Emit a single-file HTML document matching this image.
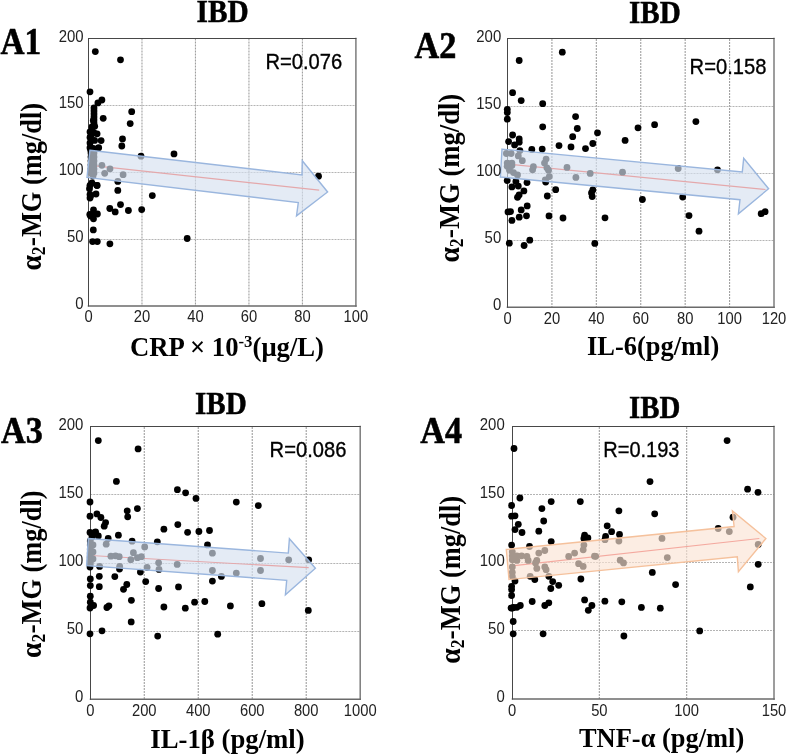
<!DOCTYPE html>
<html><head><meta charset="utf-8"><style>
html,body{margin:0;padding:0;background:#fff;overflow:hidden;}
svg{display:block;will-change:transform;}
</style></head><body>
<svg width="787" height="754" viewBox="0 0 787 754">
<rect width="787" height="754" fill="#fff"/>
<g stroke-width="1" stroke-dasharray="2 1"><line x1="141.98" y1="38.5" x2="141.98" y2="305.9" stroke="#a0a0a0" stroke-width="1.1"/><line x1="195.46" y1="38.5" x2="195.46" y2="305.9" stroke="#a0a0a0" stroke-width="1.1"/><line x1="248.94" y1="38.5" x2="248.94" y2="305.9" stroke="#a0a0a0" stroke-width="1.1"/><line x1="302.42" y1="38.5" x2="302.42" y2="305.9" stroke="#a0a0a0" stroke-width="1.1"/><line x1="88.5" y1="239.5" x2="355.9" y2="239.5" stroke="#b4b4b4"/><line x1="88.5" y1="172.5" x2="355.9" y2="172.5" stroke="#b4b4b4"/><line x1="88.5" y1="105.5" x2="355.9" y2="105.5" stroke="#b4b4b4"/></g>
<g fill="none" stroke-linecap="square"><line x1="355.9" y1="38.5" x2="355.9" y2="305.9" stroke="#7c7c7c" stroke-width="1.5"/><line x1="88.5" y1="305.9" x2="355.9" y2="305.9" stroke="#6a6a6a" stroke-width="1.5"/><line x1="88.5" y1="38.5" x2="88.5" y2="305.9" stroke="#484848" stroke-width="1"/><line x1="88.5" y1="38.5" x2="355.9" y2="38.5" stroke="#484848" stroke-width="1"/></g>
<line x1="88.5" y1="165.1" x2="319.2" y2="190.2" stroke="#ff3c28" stroke-width="1.2"/>
<g fill="#000"><circle cx="95.3" cy="51.6" r="3.4"/><circle cx="120.5" cy="59.8" r="3.4"/><circle cx="90.0" cy="91.8" r="3.4"/><circle cx="101.9" cy="100.0" r="3.4"/><circle cx="97.9" cy="102.9" r="3.4"/><circle cx="94" cy="108" r="3.4"/><circle cx="94" cy="111" r="3.4"/><circle cx="94" cy="114" r="3.4"/><circle cx="94" cy="117" r="3.4"/><circle cx="94" cy="120" r="3.4"/><circle cx="94" cy="123" r="3.4"/><circle cx="131.7" cy="111.7" r="3.4"/><circle cx="103.2" cy="118.3" r="3.4"/><circle cx="130.2" cy="123.6" r="3.4"/><circle cx="92.3" cy="127" r="3.4"/><circle cx="94.7" cy="126.3" r="3.4"/><circle cx="90" cy="131.8" r="3.4"/><circle cx="97.1" cy="133.8" r="3.4"/><circle cx="90" cy="137.4" r="3.4"/><circle cx="101.1" cy="140.6" r="3.4"/><circle cx="90" cy="143" r="3.4"/><circle cx="98.7" cy="147.7" r="3.4"/><circle cx="90" cy="147.7" r="3.4"/><circle cx="122.5" cy="138.9" r="3.4"/><circle cx="121.8" cy="146" r="3.4"/><circle cx="174" cy="153.9" r="3.4"/><circle cx="141" cy="156.2" r="3.4"/><circle cx="91" cy="153" r="3.4"/><circle cx="91" cy="157" r="3.4"/><circle cx="91" cy="161" r="3.4"/><circle cx="91" cy="165" r="3.4"/><circle cx="91" cy="169" r="3.4"/><circle cx="91" cy="173" r="3.4"/><circle cx="94" cy="153" r="3.4"/><circle cx="94" cy="157" r="3.4"/><circle cx="94" cy="161" r="3.4"/><circle cx="94" cy="165" r="3.4"/><circle cx="94" cy="169" r="3.4"/><circle cx="94" cy="173" r="3.4"/><circle cx="93" cy="176" r="3.4"/><circle cx="101.9" cy="165.3" r="3.4"/><circle cx="110" cy="168.8" r="3.4"/><circle cx="104.7" cy="173.3" r="3.4"/><circle cx="123.1" cy="174.7" r="3.4"/><circle cx="117.8" cy="181.4" r="3.4"/><circle cx="90" cy="185.3" r="3.4"/><circle cx="96.7" cy="185.3" r="3.4"/><circle cx="89.5" cy="188.7" r="3.4"/><circle cx="117.8" cy="190.4" r="3.4"/><circle cx="90" cy="194.4" r="3.4"/><circle cx="96" cy="194" r="3.4"/><circle cx="90" cy="198" r="3.4"/><circle cx="152.3" cy="195.6" r="3.4"/><circle cx="120.5" cy="204.6" r="3.4"/><circle cx="109.8" cy="208.5" r="3.4"/><circle cx="115.2" cy="211.9" r="3.4"/><circle cx="128.4" cy="210.5" r="3.4"/><circle cx="141.7" cy="209.6" r="3.4"/><circle cx="93.5" cy="209.8" r="3.4"/><circle cx="89.8" cy="214.5" r="3.4"/><circle cx="97.4" cy="214" r="3.4"/><circle cx="93.5" cy="218.8" r="3.4"/><circle cx="93.3" cy="229.9" r="3.4"/><circle cx="92.6" cy="241.6" r="3.4"/><circle cx="97.3" cy="241.6" r="3.4"/><circle cx="109.9" cy="243.8" r="3.4"/><circle cx="187.2" cy="238.5" r="3.4"/><circle cx="318.5" cy="176.2" r="3.4"/><circle cx="91.9" cy="127.1" r="3.4"/><circle cx="93.3" cy="120.5" r="3.4"/><circle cx="90.6" cy="136.4" r="3.4"/><circle cx="94.6" cy="140.4" r="3.4"/><circle cx="90.6" cy="149.7" r="3.4"/><circle cx="93.3" cy="148.4" r="3.4"/><circle cx="91.9" cy="182.8" r="3.4"/><circle cx="97.2" cy="185.5" r="3.4"/><circle cx="90.6" cy="196.1" r="3.4"/><circle cx="93.3" cy="213.3" r="3.4"/><circle cx="90.6" cy="216" r="3.4"/><circle cx="92" cy="131" r="3.4"/><circle cx="94" cy="133" r="3.4"/></g>
<polygon points="89.9,150.2 302.0,174.9 302.3,160.7 327.6,192.0 296.5,215.9 298.3,202.5 87,177.5" fill="#d6e1f0" fill-opacity="0.66" stroke="#9ab6de" stroke-width="1.4" stroke-linejoin="miter"/>
<text x="88.50" y="321.5" font-family="'Liberation Sans', sans-serif" font-size="16" font-weight="normal" text-anchor="middle" fill="#222" textLength="8.2" lengthAdjust="spacingAndGlyphs">0</text>
<text x="141.98" y="321.5" font-family="'Liberation Sans', sans-serif" font-size="16" font-weight="normal" text-anchor="middle" fill="#222" textLength="16.4" lengthAdjust="spacingAndGlyphs">20</text>
<text x="195.46" y="321.5" font-family="'Liberation Sans', sans-serif" font-size="16" font-weight="normal" text-anchor="middle" fill="#222" textLength="16.4" lengthAdjust="spacingAndGlyphs">40</text>
<text x="248.94" y="321.5" font-family="'Liberation Sans', sans-serif" font-size="16" font-weight="normal" text-anchor="middle" fill="#222" textLength="16.4" lengthAdjust="spacingAndGlyphs">60</text>
<text x="302.42" y="321.5" font-family="'Liberation Sans', sans-serif" font-size="16" font-weight="normal" text-anchor="middle" fill="#222" textLength="16.4" lengthAdjust="spacingAndGlyphs">80</text>
<text x="355.90" y="321.5" font-family="'Liberation Sans', sans-serif" font-size="16" font-weight="normal" text-anchor="middle" fill="#222" textLength="24.6" lengthAdjust="spacingAndGlyphs">100</text>
<text x="83.6" y="309.00" font-family="'Liberation Sans', sans-serif" font-size="16" font-weight="normal" text-anchor="end" fill="#222" textLength="8.3" lengthAdjust="spacingAndGlyphs">0</text>
<text x="83.6" y="242.15" font-family="'Liberation Sans', sans-serif" font-size="16" font-weight="normal" text-anchor="end" fill="#222" textLength="16.6" lengthAdjust="spacingAndGlyphs">50</text>
<text x="83.6" y="175.30" font-family="'Liberation Sans', sans-serif" font-size="16" font-weight="normal" text-anchor="end" fill="#222" textLength="24.9" lengthAdjust="spacingAndGlyphs">100</text>
<text x="83.6" y="108.45" font-family="'Liberation Sans', sans-serif" font-size="16" font-weight="normal" text-anchor="end" fill="#222" textLength="24.9" lengthAdjust="spacingAndGlyphs">150</text>
<text x="83.6" y="41.60" font-family="'Liberation Sans', sans-serif" font-size="16" font-weight="normal" text-anchor="end" fill="#222" textLength="24.9" lengthAdjust="spacingAndGlyphs">200</text>
<text x="265.4" y="68.6" font-family="'Liberation Sans', sans-serif" font-size="22" font-weight="normal" text-anchor="start" fill="#000" textLength="76.8" lengthAdjust="spacingAndGlyphs" stroke="#000" stroke-width="0.35">R=0.076</text>
<text x="196.5" y="21.6" font-family="'Liberation Serif', serif" font-size="31.5" font-weight="bold" text-anchor="start" fill="#000" textLength="52.1" lengthAdjust="spacingAndGlyphs" stroke="#000" stroke-width="0.5">IBD</text>
<text x="0.5" y="54.1" font-family="'Liberation Serif', serif" font-size="38" font-weight="bold" text-anchor="start" fill="#000" textLength="40.7" lengthAdjust="spacingAndGlyphs" stroke="#000" stroke-width="0.6">A1</text>
<g transform="translate(40.5,270.6) rotate(-90)" font-family="'Liberation Serif', serif" font-weight="bold"><text x="0" y="0" font-size="28.4" textLength="33.5" lengthAdjust="spacingAndGlyphs">&#945;<tspan font-size="18.2" dy="4.2">2</tspan><tspan dy="-4.2">-</tspan></text><text x="33.5" y="0" font-size="28.4" textLength="134.1" lengthAdjust="spacingAndGlyphs">MG (mg/dl)</text></g>
<text x="129.9" y="356.3" font-family="'Liberation Serif', serif" font-size="27" font-weight="bold" textLength="194.1" lengthAdjust="spacingAndGlyphs">CRP &#215; 10<tspan font-size="17" dy="-9">-3</tspan><tspan dy="9">(&#956;g/L)</tspan></text>
<g stroke-width="1" stroke-dasharray="2 1"><line x1="551.92" y1="39" x2="551.92" y2="307.2" stroke="#a0a0a0" stroke-width="1.1"/><line x1="596.33" y1="39" x2="596.33" y2="307.2" stroke="#a0a0a0" stroke-width="1.1"/><line x1="640.75" y1="39" x2="640.75" y2="307.2" stroke="#a0a0a0" stroke-width="1.1"/><line x1="685.17" y1="39" x2="685.17" y2="307.2" stroke="#a0a0a0" stroke-width="1.1"/><line x1="729.58" y1="39" x2="729.58" y2="307.2" stroke="#a0a0a0" stroke-width="1.1"/><line x1="507.5" y1="240.5" x2="774" y2="240.5" stroke="#b4b4b4"/><line x1="507.5" y1="173.5" x2="774" y2="173.5" stroke="#b4b4b4"/><line x1="507.5" y1="106.5" x2="774" y2="106.5" stroke="#b4b4b4"/></g>
<g fill="none" stroke-linecap="square"><line x1="774" y1="38.5" x2="774" y2="307.2" stroke="#7c7c7c" stroke-width="1.5"/><line x1="507.5" y1="307.2" x2="774" y2="307.2" stroke="#6a6a6a" stroke-width="1.5"/><line x1="507.5" y1="38.5" x2="507.5" y2="307.2" stroke="#484848" stroke-width="1"/><line x1="507.5" y1="38.5" x2="774" y2="38.5" stroke="#484848" stroke-width="1"/></g>
<line x1="507.5" y1="164" x2="765.5" y2="189.5" stroke="#ff3c28" stroke-width="1.2"/>
<g fill="#000"><circle cx="519.2" cy="60.5" r="3.4"/><circle cx="562.3" cy="52.2" r="3.4"/><circle cx="512.6" cy="92.7" r="3.4"/><circle cx="521.2" cy="100.6" r="3.4"/><circle cx="542.7" cy="103.7" r="3.4"/><circle cx="507.3" cy="109.3" r="3.4"/><circle cx="507.3" cy="112.6" r="3.4"/><circle cx="507.3" cy="119.2" r="3.4"/><circle cx="575.6" cy="116.6" r="3.4"/><circle cx="542.7" cy="126.8" r="3.4"/><circle cx="577.3" cy="128.5" r="3.4"/><circle cx="597.5" cy="132.8" r="3.4"/><circle cx="512.6" cy="135" r="3.4"/><circle cx="572.7" cy="136.7" r="3.4"/><circle cx="519.2" cy="138.9" r="3.4"/><circle cx="519.2" cy="142.2" r="3.4"/><circle cx="508.6" cy="141.6" r="3.4"/><circle cx="514.6" cy="144.9" r="3.4"/><circle cx="559" cy="145.6" r="3.4"/><circle cx="571" cy="146.9" r="3.4"/><circle cx="585.5" cy="148.6" r="3.4"/><circle cx="592.8" cy="143.5" r="3.4"/><circle cx="531.8" cy="149.5" r="3.4"/><circle cx="542.2" cy="149.1" r="3.4"/><circle cx="519.9" cy="150.6" r="3.4"/><circle cx="506.4" cy="153.5" r="3.4"/><circle cx="511.1" cy="153.5" r="3.4"/><circle cx="518.3" cy="155.9" r="3.4"/><circle cx="522.3" cy="160.7" r="3.4"/><circle cx="507.2" cy="163.1" r="3.4"/><circle cx="511.9" cy="163.1" r="3.4"/><circle cx="507.2" cy="166.3" r="3.4"/><circle cx="511.9" cy="165.5" r="3.4"/><circle cx="509.5" cy="170.2" r="3.4"/><circle cx="513.5" cy="172.6" r="3.4"/><circle cx="517.5" cy="175" r="3.4"/><circle cx="533.4" cy="166.7" r="3.4"/><circle cx="532.6" cy="169.8" r="3.4"/><circle cx="546.1" cy="159.1" r="3.4"/><circle cx="544.5" cy="163.1" r="3.4"/><circle cx="546.9" cy="167.8" r="3.4"/><circle cx="548.5" cy="170.2" r="3.4"/><circle cx="549.3" cy="176.6" r="3.4"/><circle cx="545.3" cy="179.8" r="3.4"/><circle cx="567" cy="167.4" r="3.4"/><circle cx="575.9" cy="177.4" r="3.4"/><circle cx="590.2" cy="173.4" r="3.4"/><circle cx="622.5" cy="172.2" r="3.4"/><circle cx="678.2" cy="168.5" r="3.4"/><circle cx="717.5" cy="169.8" r="3.4"/><circle cx="507.2" cy="180.6" r="3.4"/><circle cx="515.9" cy="181.4" r="3.4"/><circle cx="527" cy="182.6" r="3.4"/><circle cx="511.9" cy="186.9" r="3.4"/><circle cx="518.3" cy="186.1" r="3.4"/><circle cx="523.9" cy="190.9" r="3.4"/><circle cx="519.1" cy="194.9" r="3.4"/><circle cx="517.5" cy="197.3" r="3.4"/><circle cx="545.7" cy="182" r="3.4"/><circle cx="555.7" cy="189.7" r="3.4"/><circle cx="547.3" cy="196" r="3.4"/><circle cx="592.8" cy="190" r="3.4"/><circle cx="591.5" cy="193" r="3.4"/><circle cx="592.2" cy="196.6" r="3.4"/><circle cx="527.2" cy="205.9" r="3.4"/><circle cx="521.2" cy="209.9" r="3.4"/><circle cx="508" cy="211.9" r="3.4"/><circle cx="510.5" cy="211.6" r="3.4"/><circle cx="519.2" cy="217.2" r="3.4"/><circle cx="526.5" cy="215.8" r="3.4"/><circle cx="511.9" cy="220.4" r="3.4"/><circle cx="549" cy="215.9" r="3.4"/><circle cx="563" cy="218" r="3.4"/><circle cx="509.3" cy="243.2" r="3.4"/><circle cx="524.1" cy="245.5" r="3.4"/><circle cx="529.8" cy="240.2" r="3.4"/><circle cx="594.8" cy="243.4" r="3.4"/><circle cx="625.1" cy="140.4" r="3.4"/><circle cx="638" cy="127.8" r="3.4"/><circle cx="654.6" cy="124.7" r="3.4"/><circle cx="695.9" cy="121.6" r="3.4"/><circle cx="682.7" cy="197.1" r="3.4"/><circle cx="689" cy="215.6" r="3.4"/><circle cx="699" cy="231.2" r="3.4"/><circle cx="761.2" cy="213.7" r="3.4"/><circle cx="765.1" cy="211.7" r="3.4"/><circle cx="642.4" cy="199.5" r="3.4"/><circle cx="605" cy="217.8" r="3.4"/></g>
<polygon points="502,149.1 742.3,171.9 743.7,158.2 768.6,188.7 738.4,213.9 740,199.7 500.4,177" fill="#d6e1f0" fill-opacity="0.66" stroke="#9ab6de" stroke-width="1.4" stroke-linejoin="miter"/>
<text x="507.50" y="324.1" font-family="'Liberation Sans', sans-serif" font-size="16" font-weight="normal" text-anchor="middle" fill="#222" textLength="8.2" lengthAdjust="spacingAndGlyphs">0</text>
<text x="551.92" y="324.1" font-family="'Liberation Sans', sans-serif" font-size="16" font-weight="normal" text-anchor="middle" fill="#222" textLength="16.4" lengthAdjust="spacingAndGlyphs">20</text>
<text x="596.33" y="324.1" font-family="'Liberation Sans', sans-serif" font-size="16" font-weight="normal" text-anchor="middle" fill="#222" textLength="16.4" lengthAdjust="spacingAndGlyphs">40</text>
<text x="640.75" y="324.1" font-family="'Liberation Sans', sans-serif" font-size="16" font-weight="normal" text-anchor="middle" fill="#222" textLength="16.4" lengthAdjust="spacingAndGlyphs">60</text>
<text x="685.17" y="324.1" font-family="'Liberation Sans', sans-serif" font-size="16" font-weight="normal" text-anchor="middle" fill="#222" textLength="16.4" lengthAdjust="spacingAndGlyphs">80</text>
<text x="729.58" y="324.1" font-family="'Liberation Sans', sans-serif" font-size="16" font-weight="normal" text-anchor="middle" fill="#222" textLength="24.6" lengthAdjust="spacingAndGlyphs">100</text>
<text x="774.00" y="324.1" font-family="'Liberation Sans', sans-serif" font-size="16" font-weight="normal" text-anchor="middle" fill="#222" textLength="24.6" lengthAdjust="spacingAndGlyphs">120</text>
<text x="501.2" y="310.30" font-family="'Liberation Sans', sans-serif" font-size="16" font-weight="normal" text-anchor="end" fill="#222" textLength="8.3" lengthAdjust="spacingAndGlyphs">0</text>
<text x="501.2" y="243.25" font-family="'Liberation Sans', sans-serif" font-size="16" font-weight="normal" text-anchor="end" fill="#222" textLength="16.6" lengthAdjust="spacingAndGlyphs">50</text>
<text x="501.2" y="176.20" font-family="'Liberation Sans', sans-serif" font-size="16" font-weight="normal" text-anchor="end" fill="#222" textLength="24.9" lengthAdjust="spacingAndGlyphs">100</text>
<text x="501.2" y="109.15" font-family="'Liberation Sans', sans-serif" font-size="16" font-weight="normal" text-anchor="end" fill="#222" textLength="24.9" lengthAdjust="spacingAndGlyphs">150</text>
<text x="501.2" y="42.10" font-family="'Liberation Sans', sans-serif" font-size="16" font-weight="normal" text-anchor="end" fill="#222" textLength="24.9" lengthAdjust="spacingAndGlyphs">200</text>
<text x="689.6" y="73.9" font-family="'Liberation Sans', sans-serif" font-size="22" font-weight="normal" text-anchor="start" fill="#000" textLength="76.8" lengthAdjust="spacingAndGlyphs" stroke="#000" stroke-width="0.35">R=0.158</text>
<text x="629" y="22.6" font-family="'Liberation Serif', serif" font-size="31.5" font-weight="bold" text-anchor="start" fill="#000" textLength="51.7" lengthAdjust="spacingAndGlyphs" stroke="#000" stroke-width="0.5">IBD</text>
<text x="414.6" y="57.9" font-family="'Liberation Serif', serif" font-size="38" font-weight="bold" text-anchor="start" fill="#000" textLength="41.9" lengthAdjust="spacingAndGlyphs" stroke="#000" stroke-width="0.6">A2</text>
<g transform="translate(458.9,262.6) rotate(-90)" font-family="'Liberation Serif', serif" font-weight="bold"><text x="0" y="0" font-size="28.4" textLength="33.5" lengthAdjust="spacingAndGlyphs">&#945;<tspan font-size="18.2" dy="4.2">2</tspan><tspan dy="-4.2">-</tspan></text><text x="33.5" y="0" font-size="28.4" textLength="135.3" lengthAdjust="spacingAndGlyphs">MG (mg/dl)</text></g>
<text x="587" y="354.6" font-family="'Liberation Serif', serif" font-size="27" font-weight="bold" textLength="132.2" lengthAdjust="spacingAndGlyphs">IL-6(pg/ml)</text>
<g stroke-width="1" stroke-dasharray="2 1"><line x1="144.28" y1="426.9" x2="144.28" y2="699.2" stroke="#a0a0a0" stroke-width="1.1"/><line x1="198.26" y1="426.9" x2="198.26" y2="699.2" stroke="#a0a0a0" stroke-width="1.1"/><line x1="252.24" y1="426.9" x2="252.24" y2="699.2" stroke="#a0a0a0" stroke-width="1.1"/><line x1="306.22" y1="426.9" x2="306.22" y2="699.2" stroke="#a0a0a0" stroke-width="1.1"/><line x1="90.3" y1="631.5" x2="360.2" y2="631.5" stroke="#b4b4b4"/><line x1="90.3" y1="563.5" x2="360.2" y2="563.5" stroke="#b4b4b4"/><line x1="90.3" y1="494.5" x2="360.2" y2="494.5" stroke="#b4b4b4"/></g>
<g fill="none" stroke-linecap="square"><line x1="360.2" y1="426.5" x2="360.2" y2="699.2" stroke="#7c7c7c" stroke-width="1.5"/><line x1="90.5" y1="699.2" x2="360.2" y2="699.2" stroke="#6a6a6a" stroke-width="1.5"/><line x1="90.5" y1="426.5" x2="90.5" y2="699.2" stroke="#484848" stroke-width="1"/><line x1="90.5" y1="426.5" x2="360.2" y2="426.5" stroke="#484848" stroke-width="1"/></g>
<line x1="90.3" y1="555.5" x2="308.7" y2="567.7" stroke="#ff3c28" stroke-width="1.2"/>
<g fill="#000"><circle cx="98.3" cy="440.6" r="3.4"/><circle cx="138.1" cy="448.9" r="3.4"/><circle cx="116.4" cy="481.4" r="3.4"/><circle cx="177.4" cy="489.7" r="3.4"/><circle cx="185.6" cy="492.8" r="3.4"/><circle cx="196" cy="498.4" r="3.4"/><circle cx="236.3" cy="502.1" r="3.4"/><circle cx="258.3" cy="505.6" r="3.4"/><circle cx="90" cy="502" r="3.4"/><circle cx="137.4" cy="508.6" r="3.4"/><circle cx="127.2" cy="510.8" r="3.4"/><circle cx="127.7" cy="516.8" r="3.4"/><circle cx="90" cy="516.2" r="3.4"/><circle cx="96.9" cy="513.9" r="3.4"/><circle cx="100.9" cy="517.5" r="3.4"/><circle cx="105.6" cy="522.6" r="3.4"/><circle cx="104.2" cy="526.2" r="3.4"/><circle cx="177.8" cy="524.6" r="3.4"/><circle cx="163.9" cy="529.2" r="3.4"/><circle cx="90" cy="532.5" r="3.4"/><circle cx="95.6" cy="531.9" r="3.4"/><circle cx="98.3" cy="535.9" r="3.4"/><circle cx="118.4" cy="535.2" r="3.4"/><circle cx="108.2" cy="538.5" r="3.4"/><circle cx="132.1" cy="541.2" r="3.4"/><circle cx="157.3" cy="541.8" r="3.4"/><circle cx="90.3" cy="541" r="3.4"/><circle cx="90.3" cy="545" r="3.4"/><circle cx="90.3" cy="549" r="3.4"/><circle cx="90.3" cy="553" r="3.4"/><circle cx="90.3" cy="557" r="3.4"/><circle cx="90.3" cy="561" r="3.4"/><circle cx="90.3" cy="564" r="3.4"/><circle cx="106.2" cy="544.2" r="3.4"/><circle cx="144.7" cy="546.9" r="3.4"/><circle cx="133.4" cy="552.7" r="3.4"/><circle cx="110.9" cy="556.2" r="3.4"/><circle cx="115.5" cy="555.8" r="3.4"/><circle cx="119.2" cy="556.7" r="3.4"/><circle cx="130.8" cy="559.7" r="3.4"/><circle cx="137.4" cy="557.7" r="3.4"/><circle cx="141.4" cy="556.7" r="3.4"/><circle cx="158.6" cy="562.8" r="3.4"/><circle cx="177.2" cy="564.4" r="3.4"/><circle cx="99.6" cy="566.4" r="3.4"/><circle cx="119.7" cy="566.4" r="3.4"/><circle cx="119.5" cy="569" r="3.4"/><circle cx="147.1" cy="567.3" r="3.4"/><circle cx="159" cy="569.4" r="3.4"/><circle cx="140.4" cy="572.1" r="3.4"/><circle cx="90" cy="567" r="3.4"/><circle cx="99.3" cy="576.3" r="3.4"/><circle cx="114.8" cy="576.6" r="3.4"/><circle cx="90.3" cy="579" r="3.4"/><circle cx="90.3" cy="585.6" r="3.4"/><circle cx="99.3" cy="586.7" r="3.4"/><circle cx="145.7" cy="581.6" r="3.4"/><circle cx="126.8" cy="584.5" r="3.4"/><circle cx="123.5" cy="589.3" r="3.4"/><circle cx="158.6" cy="588.5" r="3.4"/><circle cx="178.5" cy="586.9" r="3.4"/><circle cx="90.3" cy="596.2" r="3.4"/><circle cx="90.3" cy="602.2" r="3.4"/><circle cx="93.6" cy="605.5" r="3.4"/><circle cx="131.4" cy="600.3" r="3.4"/><circle cx="108.9" cy="605.8" r="3.4"/><circle cx="106.9" cy="607.5" r="3.4"/><circle cx="163.9" cy="607" r="3.4"/><circle cx="90" cy="608" r="3.4"/><circle cx="131.2" cy="621.9" r="3.4"/><circle cx="102" cy="630.8" r="3.4"/><circle cx="90" cy="633.8" r="3.4"/><circle cx="157.7" cy="636.1" r="3.4"/><circle cx="187.6" cy="532.3" r="3.4"/><circle cx="198.9" cy="531.5" r="3.4"/><circle cx="209.5" cy="530.5" r="3.4"/><circle cx="207.5" cy="544.9" r="3.4"/><circle cx="212.4" cy="553.2" r="3.4"/><circle cx="212.4" cy="570.5" r="3.4"/><circle cx="236.3" cy="573.1" r="3.4"/><circle cx="260.5" cy="558.5" r="3.4"/><circle cx="260.5" cy="570.5" r="3.4"/><circle cx="221.4" cy="576.4" r="3.4"/><circle cx="212.4" cy="581.1" r="3.4"/><circle cx="194.6" cy="602.2" r="3.4"/><circle cx="185.3" cy="608.2" r="3.4"/><circle cx="204.8" cy="601.5" r="3.4"/><circle cx="230.4" cy="605.9" r="3.4"/><circle cx="261.9" cy="603.7" r="3.4"/><circle cx="217.7" cy="634.2" r="3.4"/><circle cx="288.7" cy="559.8" r="3.4"/><circle cx="308.7" cy="559.8" r="3.4"/><circle cx="308.3" cy="610.4" r="3.4"/><circle cx="93" cy="545" r="3.4"/><circle cx="93" cy="552" r="3.4"/><circle cx="93" cy="559" r="3.4"/><circle cx="94" cy="533" r="3.4"/><circle cx="92" cy="537" r="3.4"/></g>
<polygon points="88.3,538.5 288.3,553.1 289.4,538.7 315.4,568.3 285.4,594.7 286.7,580.3 86.6,565.7" fill="#d6e1f0" fill-opacity="0.66" stroke="#9ab6de" stroke-width="1.4" stroke-linejoin="miter"/>
<text x="90.30" y="716" font-family="'Liberation Sans', sans-serif" font-size="16" font-weight="normal" text-anchor="middle" fill="#222" textLength="8.2" lengthAdjust="spacingAndGlyphs">0</text>
<text x="144.28" y="716" font-family="'Liberation Sans', sans-serif" font-size="16" font-weight="normal" text-anchor="middle" fill="#222" textLength="24.6" lengthAdjust="spacingAndGlyphs">200</text>
<text x="198.26" y="716" font-family="'Liberation Sans', sans-serif" font-size="16" font-weight="normal" text-anchor="middle" fill="#222" textLength="24.6" lengthAdjust="spacingAndGlyphs">400</text>
<text x="252.24" y="716" font-family="'Liberation Sans', sans-serif" font-size="16" font-weight="normal" text-anchor="middle" fill="#222" textLength="24.6" lengthAdjust="spacingAndGlyphs">600</text>
<text x="306.22" y="716" font-family="'Liberation Sans', sans-serif" font-size="16" font-weight="normal" text-anchor="middle" fill="#222" textLength="24.6" lengthAdjust="spacingAndGlyphs">800</text>
<text x="360.20" y="716" font-family="'Liberation Sans', sans-serif" font-size="16" font-weight="normal" text-anchor="middle" fill="#222" textLength="32.8" lengthAdjust="spacingAndGlyphs">1000</text>
<text x="83.3" y="702.30" font-family="'Liberation Sans', sans-serif" font-size="16" font-weight="normal" text-anchor="end" fill="#222" textLength="8.3" lengthAdjust="spacingAndGlyphs">0</text>
<text x="83.3" y="634.23" font-family="'Liberation Sans', sans-serif" font-size="16" font-weight="normal" text-anchor="end" fill="#222" textLength="16.6" lengthAdjust="spacingAndGlyphs">50</text>
<text x="83.3" y="566.15" font-family="'Liberation Sans', sans-serif" font-size="16" font-weight="normal" text-anchor="end" fill="#222" textLength="24.9" lengthAdjust="spacingAndGlyphs">100</text>
<text x="83.3" y="498.08" font-family="'Liberation Sans', sans-serif" font-size="16" font-weight="normal" text-anchor="end" fill="#222" textLength="24.9" lengthAdjust="spacingAndGlyphs">150</text>
<text x="83.3" y="430.00" font-family="'Liberation Sans', sans-serif" font-size="16" font-weight="normal" text-anchor="end" fill="#222" textLength="24.9" lengthAdjust="spacingAndGlyphs">200</text>
<text x="269.6" y="456.7" font-family="'Liberation Sans', sans-serif" font-size="22" font-weight="normal" text-anchor="start" fill="#000" textLength="76.8" lengthAdjust="spacingAndGlyphs" stroke="#000" stroke-width="0.35">R=0.086</text>
<text x="195" y="413.7" font-family="'Liberation Serif', serif" font-size="31.5" font-weight="bold" text-anchor="start" fill="#000" textLength="51.7" lengthAdjust="spacingAndGlyphs" stroke="#000" stroke-width="0.5">IBD</text>
<text x="1" y="442.9" font-family="'Liberation Serif', serif" font-size="38" font-weight="bold" text-anchor="start" fill="#000" textLength="41.7" lengthAdjust="spacingAndGlyphs" stroke="#000" stroke-width="0.6">A3</text>
<g transform="translate(40.5,657.9) rotate(-90)" font-family="'Liberation Serif', serif" font-weight="bold"><text x="0" y="0" font-size="28.4" textLength="33.5" lengthAdjust="spacingAndGlyphs">&#945;<tspan font-size="18.2" dy="4.2">2</tspan><tspan dy="-4.2">-</tspan></text><text x="33.5" y="0" font-size="28.4" textLength="134.0" lengthAdjust="spacingAndGlyphs">MG (mg/dl)</text></g>
<text x="150.3" y="747.6" font-family="'Liberation Serif', serif" font-size="27" font-weight="bold" textLength="154.4" lengthAdjust="spacingAndGlyphs">IL-1&#946; (pg/ml)</text>
<g stroke-width="1" stroke-dasharray="2 1"><line x1="599.33" y1="427" x2="599.33" y2="699" stroke="#a0a0a0" stroke-width="1.1"/><line x1="686.67" y1="427" x2="686.67" y2="699" stroke="#a0a0a0" stroke-width="1.1"/><line x1="512" y1="630.5" x2="774" y2="630.5" stroke="#b4b4b4"/><line x1="512" y1="562.5" x2="774" y2="562.5" stroke="#b4b4b4"/><line x1="512" y1="494.5" x2="774" y2="494.5" stroke="#b4b4b4"/></g>
<g fill="none" stroke-linecap="square"><line x1="774" y1="426.5" x2="774" y2="699" stroke="#7c7c7c" stroke-width="1.5"/><line x1="512.5" y1="699" x2="774" y2="699" stroke="#6a6a6a" stroke-width="1.5"/><line x1="512.5" y1="426.5" x2="512.5" y2="699" stroke="#484848" stroke-width="1"/><line x1="512.5" y1="426.5" x2="774" y2="426.5" stroke="#484848" stroke-width="1"/></g>
<line x1="512" y1="565.8" x2="759.3" y2="538.5" stroke="#e83a3a" stroke-width="1.2"/>
<g fill="#000"><circle cx="514" cy="448.5" r="3.4"/><circle cx="519.9" cy="498" r="3.4"/><circle cx="511.6" cy="505.5" r="3.4"/><circle cx="551.2" cy="501.6" r="3.4"/><circle cx="580.3" cy="501.6" r="3.4"/><circle cx="541.9" cy="508.6" r="3.4"/><circle cx="511.6" cy="516.2" r="3.4"/><circle cx="515" cy="515.8" r="3.4"/><circle cx="543.7" cy="521" r="3.4"/><circle cx="518.3" cy="524.3" r="3.4"/><circle cx="515" cy="529.6" r="3.4"/><circle cx="522" cy="532.5" r="3.4"/><circle cx="538.8" cy="531.2" r="3.4"/><circle cx="584.6" cy="535.2" r="3.4"/><circle cx="587.9" cy="537.9" r="3.4"/><circle cx="583.9" cy="538.5" r="3.4"/><circle cx="511.6" cy="545.1" r="3.4"/><circle cx="551.2" cy="541.6" r="3.4"/><circle cx="529.5" cy="546.5" r="3.4"/><circle cx="583.9" cy="545.1" r="3.4"/><circle cx="583.2" cy="549.8" r="3.4"/><circle cx="574.6" cy="553.1" r="3.4"/><circle cx="568.7" cy="556.4" r="3.4"/><circle cx="594.5" cy="556.2" r="3.4"/><circle cx="512.3" cy="551.8" r="3.4"/><circle cx="512.3" cy="555.8" r="3.4"/><circle cx="512.3" cy="559.7" r="3.4"/><circle cx="516.9" cy="555.8" r="3.4"/><circle cx="521.6" cy="555.8" r="3.4"/><circle cx="516.9" cy="560.4" r="3.4"/><circle cx="526.9" cy="556.4" r="3.4"/><circle cx="528.2" cy="560.4" r="3.4"/><circle cx="538.8" cy="553.1" r="3.4"/><circle cx="544.8" cy="550.5" r="3.4"/><circle cx="536.8" cy="560.4" r="3.4"/><circle cx="535.5" cy="563" r="3.4"/><circle cx="536.8" cy="568.4" r="3.4"/><circle cx="544.8" cy="567" r="3.4"/><circle cx="546.1" cy="569.7" r="3.4"/><circle cx="512.3" cy="567" r="3.4"/><circle cx="512.3" cy="572.3" r="3.4"/><circle cx="512.3" cy="576.3" r="3.4"/><circle cx="578.6" cy="563.7" r="3.4"/><circle cx="583.2" cy="566.4" r="3.4"/><circle cx="530.2" cy="576.3" r="3.4"/><circle cx="515" cy="581" r="3.4"/><circle cx="534.8" cy="579.6" r="3.4"/><circle cx="548.8" cy="576.3" r="3.4"/><circle cx="552.7" cy="581.6" r="3.4"/><circle cx="558.7" cy="585.3" r="3.4"/><circle cx="550.8" cy="588.5" r="3.4"/><circle cx="580.9" cy="579" r="3.4"/><circle cx="511.6" cy="586.3" r="3.4"/><circle cx="511.6" cy="589.6" r="3.4"/><circle cx="511.6" cy="595.5" r="3.4"/><circle cx="532.2" cy="601.5" r="3.4"/><circle cx="584.6" cy="599.9" r="3.4"/><circle cx="548.8" cy="602.8" r="3.4"/><circle cx="544.8" cy="605.5" r="3.4"/><circle cx="520.3" cy="605.5" r="3.4"/><circle cx="513.6" cy="607.5" r="3.4"/><circle cx="511" cy="608.1" r="3.4"/><circle cx="591.9" cy="605.5" r="3.4"/><circle cx="512.3" cy="608" r="3.4"/><circle cx="516.9" cy="607.3" r="3.4"/><circle cx="588.3" cy="610.3" r="3.4"/><circle cx="513.2" cy="621.5" r="3.4"/><circle cx="513.2" cy="633.8" r="3.4"/><circle cx="543.1" cy="633.8" r="3.4"/><circle cx="650" cy="481.6" r="3.4"/><circle cx="618.9" cy="510.8" r="3.4"/><circle cx="654.7" cy="513.8" r="3.4"/><circle cx="607.2" cy="525.8" r="3.4"/><circle cx="611.6" cy="531.7" r="3.4"/><circle cx="605.6" cy="536.4" r="3.4"/><circle cx="605" cy="539.7" r="3.4"/><circle cx="619.5" cy="534.4" r="3.4"/><circle cx="618.9" cy="541" r="3.4"/><circle cx="662" cy="538.4" r="3.4"/><circle cx="595.7" cy="556.3" r="3.4"/><circle cx="667.3" cy="557.6" r="3.4"/><circle cx="620.2" cy="560.2" r="3.4"/><circle cx="623.5" cy="562.9" r="3.4"/><circle cx="652.3" cy="572.4" r="3.4"/><circle cx="675.6" cy="584.6" r="3.4"/><circle cx="604.9" cy="601.2" r="3.4"/><circle cx="621.8" cy="601.8" r="3.4"/><circle cx="641.4" cy="607.4" r="3.4"/><circle cx="660.3" cy="608.2" r="3.4"/><circle cx="623.9" cy="636" r="3.4"/><circle cx="727.1" cy="440.6" r="3.4"/><circle cx="747.6" cy="489.2" r="3.4"/><circle cx="758" cy="492.3" r="3.4"/><circle cx="733" cy="517.2" r="3.4"/><circle cx="718.2" cy="528.5" r="3.4"/><circle cx="729.3" cy="531.6" r="3.4"/><circle cx="758.2" cy="544.4" r="3.4"/><circle cx="758.2" cy="564.3" r="3.4"/><circle cx="750.3" cy="586.9" r="3.4"/><circle cx="699.7" cy="630.9" r="3.4"/></g>
<polygon points="506.3,549.5 734.1,526.5 732.4,510.9 765.9,538.5 738.4,571.6 737.3,556.8 509,579.6" fill="#fae4d4" fill-opacity="0.66" stroke="#f5c19c" stroke-width="1.4" stroke-linejoin="miter"/>
<text x="512.00" y="715.8" font-family="'Liberation Sans', sans-serif" font-size="16" font-weight="normal" text-anchor="middle" fill="#222" textLength="8.2" lengthAdjust="spacingAndGlyphs">0</text>
<text x="599.33" y="715.8" font-family="'Liberation Sans', sans-serif" font-size="16" font-weight="normal" text-anchor="middle" fill="#222" textLength="16.4" lengthAdjust="spacingAndGlyphs">50</text>
<text x="686.67" y="715.8" font-family="'Liberation Sans', sans-serif" font-size="16" font-weight="normal" text-anchor="middle" fill="#222" textLength="24.6" lengthAdjust="spacingAndGlyphs">100</text>
<text x="774.00" y="715.8" font-family="'Liberation Sans', sans-serif" font-size="16" font-weight="normal" text-anchor="middle" fill="#222" textLength="24.6" lengthAdjust="spacingAndGlyphs">150</text>
<text x="504.7" y="702.10" font-family="'Liberation Sans', sans-serif" font-size="16" font-weight="normal" text-anchor="end" fill="#222" textLength="8.3" lengthAdjust="spacingAndGlyphs">0</text>
<text x="504.7" y="634.10" font-family="'Liberation Sans', sans-serif" font-size="16" font-weight="normal" text-anchor="end" fill="#222" textLength="16.6" lengthAdjust="spacingAndGlyphs">50</text>
<text x="504.7" y="566.10" font-family="'Liberation Sans', sans-serif" font-size="16" font-weight="normal" text-anchor="end" fill="#222" textLength="24.9" lengthAdjust="spacingAndGlyphs">100</text>
<text x="504.7" y="498.10" font-family="'Liberation Sans', sans-serif" font-size="16" font-weight="normal" text-anchor="end" fill="#222" textLength="24.9" lengthAdjust="spacingAndGlyphs">150</text>
<text x="504.7" y="430.10" font-family="'Liberation Sans', sans-serif" font-size="16" font-weight="normal" text-anchor="end" fill="#222" textLength="24.9" lengthAdjust="spacingAndGlyphs">200</text>
<text x="603.3" y="456.7" font-family="'Liberation Sans', sans-serif" font-size="22" font-weight="normal" text-anchor="start" fill="#000" textLength="76.1" lengthAdjust="spacingAndGlyphs" stroke="#000" stroke-width="0.35">R=0.193</text>
<text x="629" y="417.9" font-family="'Liberation Serif', serif" font-size="31.5" font-weight="bold" text-anchor="start" fill="#000" textLength="51.3" lengthAdjust="spacingAndGlyphs" stroke="#000" stroke-width="0.5">IBD</text>
<text x="420.3" y="442.9" font-family="'Liberation Serif', serif" font-size="38" font-weight="bold" text-anchor="start" fill="#000" textLength="41.7" lengthAdjust="spacingAndGlyphs" stroke="#000" stroke-width="0.6">A4</text>
<g transform="translate(460.2,663.7) rotate(-90)" font-family="'Liberation Serif', serif" font-weight="bold"><text x="0" y="0" font-size="28.4" textLength="33.5" lengthAdjust="spacingAndGlyphs">&#945;<tspan font-size="18.2" dy="4.2">2</tspan><tspan dy="-4.2">-</tspan></text><text x="33.5" y="0" font-size="28.4" textLength="134.3" lengthAdjust="spacingAndGlyphs">MG (mg/dl)</text></g>
<text x="579" y="747.1" font-family="'Liberation Serif', serif" font-size="27" font-weight="bold" textLength="165.2" lengthAdjust="spacingAndGlyphs">TNF-&#945; (pg/ml)</text>
</svg></body></html>
